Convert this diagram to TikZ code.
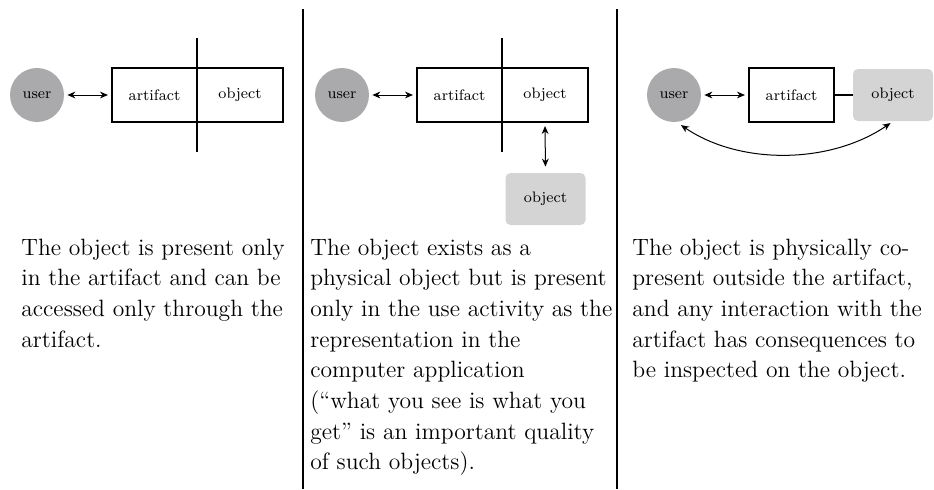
\documentclass[tikz,border=0pt]{standalone}
\usetikzlibrary{arrows.meta}

\definecolor{usergray}{RGB}{170,170,172}
\definecolor{objectgray}{RGB}{212,212,212}

\newcommand{\rowy}{394}
\newcommand{\linegap}{30.7}
\newcommand{\firstline}{234}
\newcommand{\cuttop}{451}
\newcommand{\cutbottom}{337}

\begin{document}
\begin{tikzpicture}[x=0.5pt, y=0.5pt,
    label font/.style={font=\fontsize{7.6}{9.2}\selectfont},
    text font/.style={font=\fontsize{11.8}{15.35}\selectfont},
    user/.style={circle, fill=usergray, minimum size=27pt, inner sep=0pt, label font},
    part/.style={rectangle, draw, line width=1pt, minimum height=27pt, inner sep=0pt, label font},
    thing/.style={rectangle, rounded corners=2.5pt, fill=objectgray, minimum width=40pt, minimum height=26pt, inner sep=0pt, label font},
    link/.style={{Stealth[length=4pt, width=3.4pt]}-{Stealth[length=4pt, width=3.4pt]}, line width=0.5pt, shorten <=1.5pt, shorten >=1.5pt},
    frame/.style={line width=1pt},
    caption/.style={text font, anchor=base west, align=left, inner sep=0pt}
]
\useasboundingbox (0,0) rectangle (934,489);

% COLUMNS
\draw[frame] (303,480) -- (303,0);
\draw[frame] (616.5,480) -- (616.5,0);

% ONLY IN THE ARTIFACT
\node[user] (user1) at (37,\rowy) {user};
\node[part, minimum width=42.5pt] (artifact1) at (154.5,\rowy) {artifact};
\node[part, minimum width=43pt] (object1) at (240,\rowy) {object};
\draw[frame] (197,\cuttop) -- (197,\cutbottom);
\draw[link] (user1.east) -- (artifact1.west);

% PHYSICAL OBJECT BEHIND THE ARTIFACT
\node[user] (user2) at (342,\rowy) {user};
\node[part, minimum width=42.5pt] (artifact2) at (459.5,\rowy) {artifact};
\node[part, minimum width=43pt] (object2) at (545,\rowy) {object};
\node[thing] (physical2) at (545.5,290) {object};
\draw[frame] (502,\cuttop) -- (502,\cutbottom);
\draw[link] (user2.east) -- (artifact2.west);
\draw[link, shorten >=3pt] (object2.south) -- (physical2.north);

% PHYSICALLY CO-PRESENT OBJECT
\node[user] (user3) at (674,\rowy) {user};
\node[part, minimum width=42.5pt] (artifact3) at (791.5,\rowy) {artifact};
\node[thing] (object3) at (893,\rowy) {object};
\draw[link] (user3.east) -- (artifact3.west);
\draw[line width=0.6pt] (artifact3.east) -- (object3.west);
\draw[link, shorten <=2.5pt] (user3.-84) .. controls +(63,-43) and +(-63,-43) .. (object3.south);

% LABELS (base anchor sits on the last line)
\node[caption] (text1) at (21,\firstline-3*\linegap)
    {The object is present only\\in the artifact and can be\\accessed only through the\\artifact.};
\node[caption] (text2) at (310,\firstline-7*\linegap)
    {The object exists as a\\physical object but is present\\only in the use activity as the\\representation in the\\computer application\\(``what you see is what you\\get'' is an important quality\\of such objects).};
\node[caption] (text3) at (632,\firstline-4*\linegap)
    {The object is physically co-\\present outside the artifact,\\and any interaction with the\\artifact has consequences to\\be inspected on the object.};

\end{tikzpicture}
\end{document}
